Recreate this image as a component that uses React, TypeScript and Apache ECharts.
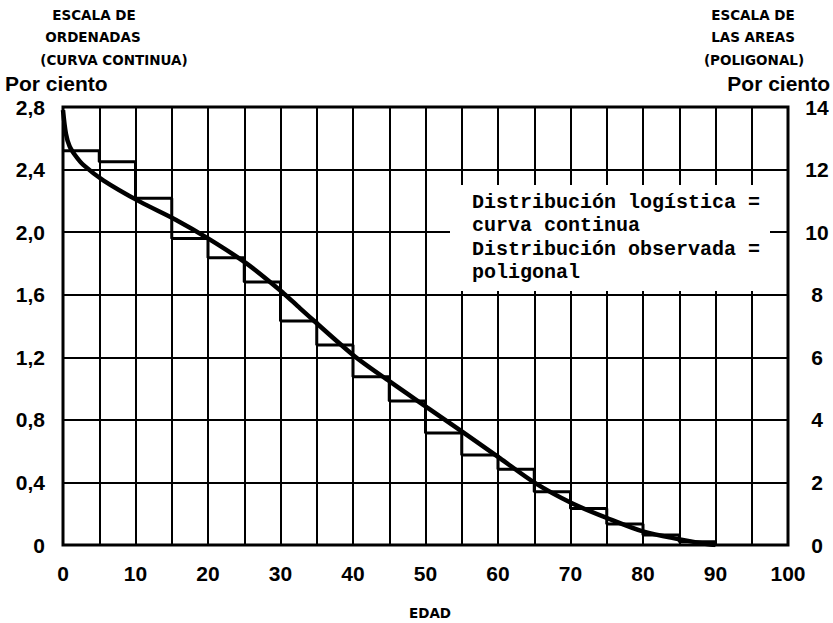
import React, { useEffect, useRef } from "react";
import * as echarts from "echarts";

// Age groups (start of each 5-year class) and observed share of the total, per cent
const binStarts = [0, 5, 10, 15, 20, 25, 30, 35, 40, 45, 50, 55, 60, 65, 70, 75, 80, 85];
const observedShare = [12.6, 12.25, 11.08, 9.8, 9.18, 8.41, 7.16, 6.39, 5.38, 4.6, 3.58, 2.88, 2.42, 1.7, 1.17, 0.67, 0.32, 0.1];
const lastAge = 90;

// Logistic distribution, ordinate in per cent
const curveAge = [0, 0.4, 0.9, 1.7, 2.8, 5.6, 10.6, 15.6, 20, 25.3, 30.4, 32.7, 40, 45.1, 50.2, 55.2, 60.3, 65.2, 70.2, 75.1, 80.1, 85.1, 88.8, 90];
const curveValue = [2.78, 2.63, 2.55, 2.49, 2.43, 2.33, 2.195, 2.078, 1.96, 1.8, 1.61, 1.513, 1.215, 1.044, 0.88, 0.72, 0.554, 0.394, 0.267, 0.171, 0.085, 0.036, 0.006, 0];

const leftTicks = { min: 0, max: 2.8, interval: 0.4 };
const rightTicks = { min: 0, max: 14, interval: 2 };
const ageTicks = { min: 0, max: 100, interval: 5, labelEvery: 10 };

const leftTitle = ["ESCALA DE", "ORDENADAS", "(CURVA CONTINUA)", "Por ciento"];
const rightTitle = ["ESCALA DE", "LAS AREAS", "(POLIGONAL)", "Por ciento"];
const axisName = "EDAD";
const noteLines = ["Distribución logística =", "curva continua", "Distribución observada =", "poligonal"];

const SANS = "'Liberation Sans', 'DejaVu Sans', sans-serif";
const WIDE = "'DejaVu Sans', 'Liberation Sans', sans-serif";
const MONO = "'Liberation Mono', 'DejaVu Sans Mono', monospace";

export default function App() {
  const ref = useRef<HTMLDivElement>(null);

  useEffect(() => {
    document.body.style.margin = "0";
    if (!ref.current) return;
    const chart = echarts.init(ref.current, null, { renderer: "svg" });

    const stepData = binStarts.map((x, i) => [x, observedShare[i]]).concat([[lastAge, 0]]);
    const curveData = curveAge.map((x, i) => [x, curveValue[i]]);

    const smallTitle = (text: string, x: number, y: number) => ({
      type: "text",
      x,
      y,
      z: 200,
      style: {
        text,
        fill: "#000",
        font: `bold 13.5px ${WIDE}`,
        textAlign: "center",
        textVerticalAlign: "middle",
      },
    });
    const bigTitle = (text: string, x: number, y: number, align: string) => ({
      type: "text",
      x,
      y,
      z: 200,
      style: {
        text,
        fill: "#000",
        font: `bold 21px ${SANS}`,
        textAlign: align,
        textVerticalAlign: "middle",
      },
    });

    chart.setOption({
      animation: false,
      backgroundColor: "#fff",
      grid: {
        left: 63,
        top: 107,
        width: 725,
        height: 438,
        show: true,
        borderColor: "#000",
        borderWidth: 3,
        backgroundColor: "transparent",
        z: 5,
      },
      xAxis: {
        type: "value",
        min: ageTicks.min,
        max: ageTicks.max,
        interval: ageTicks.interval,
        axisLine: { show: false },
        axisTick: { show: false },
        splitLine: { show: true, lineStyle: { color: "#000", width: 2 } },
        axisLabel: {
          margin: 18,
          color: "#000",
          fontFamily: SANS,
          fontWeight: "bold",
          fontSize: 21,
          formatter: (v: number) => (v % ageTicks.labelEvery === 0 ? String(v) : ""),
        },
      },
      yAxis: [
        {
          type: "value",
          min: leftTicks.min,
          max: leftTicks.max,
          interval: leftTicks.interval,
          position: "left",
          axisLine: { show: false },
          axisTick: { show: false },
          splitLine: { show: true, lineStyle: { color: "#000", width: 2 } },
          axisLabel: {
            margin: 18,
            color: "#000",
            fontFamily: SANS,
            fontWeight: "bold",
            fontSize: 21,
            formatter: (v: number) => (v === 0 ? "0" : v.toFixed(1).replace(".", ",")),
          },
        },
        {
          type: "value",
          min: rightTicks.min,
          max: rightTicks.max,
          interval: rightTicks.interval,
          position: "right",
          axisLine: { show: false },
          axisTick: { show: false },
          splitLine: { show: false },
          axisLabel: {
            margin: 29,
            align: "center",
            color: "#000",
            fontFamily: SANS,
            fontWeight: "bold",
            fontSize: 21,
          },
        },
      ],
      series: [
        {
          name: "Distribución observada",
          type: "line",
          yAxisIndex: 1,
          step: "end",
          data: stepData,
          symbol: "none",
          lineStyle: { color: "#000", width: 3 },
          z: 10,
        },
        {
          name: "Distribución logística",
          type: "line",
          yAxisIndex: 0,
          data: curveData,
          smooth: 0.3,
          symbol: "none",
          lineStyle: { color: "#000", width: 4.5 },
          z: 11,
        },
      ],
      graphic: [
        // note box masking the grid behind the explanatory text
        {
          type: "rect",
          z: 150,
          shape: { x: 450, y: 185, width: 320, height: 106 },
          style: { fill: "#fff" },
        },
        ...noteLines.map((t, i) => ({
          type: "text",
          x: 472,
          y: 202 + i * 23.5,
          z: 160,
          style: {
            text: t,
            fill: "#000",
            font: `bold 20px ${MONO}`,
            textVerticalAlign: "middle",
          },
        })),
        smallTitle(leftTitle[0], 94, 15),
        smallTitle(leftTitle[1], 93, 37),
        smallTitle(leftTitle[2], 114, 60),
        bigTitle(leftTitle[3], 5, 83, "left"),
        smallTitle(rightTitle[0], 753, 15),
        smallTitle(rightTitle[1], 753, 37),
        smallTitle(rightTitle[2], 754, 60),
        bigTitle(rightTitle[3], 830, 83, "right"),
        smallTitle(axisName, 430, 613),
      ],
    });

    return () => chart.dispose();
  }, []);

  return <div ref={ref} style={{ width: 833, height: 623 }} />;
}
